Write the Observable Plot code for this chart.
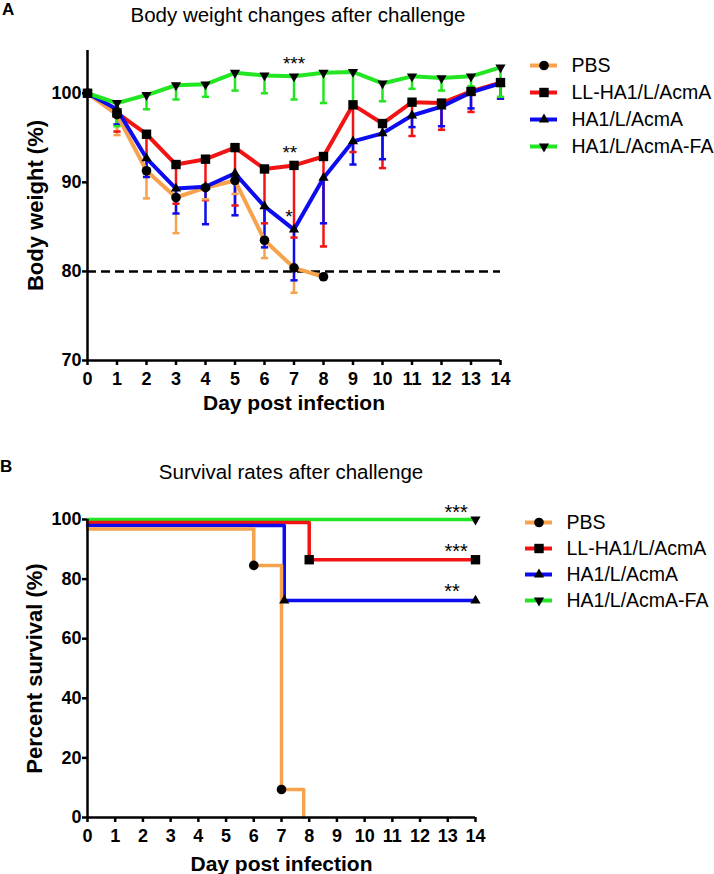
<!DOCTYPE html>
<html><head><meta charset="utf-8">
<script src="https://cdn.jsdelivr.net/npm/d3@7"></script>
<script src="https://cdn.jsdelivr.net/npm/@observablehq/plot@0.6"></script>
<style>
body{margin:0;background:#fff;}
#fig{position:relative;width:714px;height:874px;overflow:hidden;font-family:"Liberation Sans",Arial,Helvetica,sans-serif;color:#000;}
.letter{position:absolute;font-weight:bold;font-size:17px;line-height:17px;}
.title{position:absolute;font-size:20.5px;line-height:20.5px;transform:translateX(-50%);white-space:nowrap;}
</style></head><body><div id="fig"></div>
<script>
// ---------- data ----------
const days = [0,1,2,3,4,5,6,7,8,9,10,11,12,13,14];
const seriesNames = ["PBS","LL-HA1/L/AcmA","HA1/L/AcmA","HA1/L/AcmA-FA"];
const seriesColors = ["#F7A24C","#F21414","#0C0CEE","#22E622"];
const seriesSymbols = ["circle","square","triangle","triangle"];
const seriesRotate = [0,0,0,180];
const symbolR = [4.8,5.3,3.8,3.8];

// Body weight (%) means and lower error-bar ends, by day
const weightPBS  = [100,97.6,91.3,88.3,89.4,90.2,83.5,80.4,79.4];
const lowerPBS   = [null,95.3,88.2,84.3,88.1,88.7,81.5,77.6,null];
const weightLL   = [100,97.8,95.4,92.0,92.6,93.9,91.5,91.9,92.9,98.7,96.6,99.0,98.9,100.2,101.2];
const lowerLL    = [null,95.7,91.5,87.6,88.0,87.4,85.4,83.8,82.8,93.4,91.6,95.2,95.9,97.9,99.4];
const weightHA1  = [100,98.2,92.7,89.3,89.5,91.0,87.3,84.7,90.5,94.6,95.5,97.5,98.5,100.1,101.1];
const lowerHA1   = [null,96.5,90.6,86.5,85.3,86.3,82.7,79.0,85.4,92.0,92.6,96.2,96.3,98.3,99.4];
const weightFA   = [100,98.9,99.8,100.9,101.0,102.3,102.0,101.9,102.3,102.4,101.1,101.9,101.7,101.9,102.9];
const lowerFA    = [null,96.3,98.2,99.3,99.6,100.3,100.0,99.3,98.9,99.0,99.1,100.5,100.3,100.8,99.6];
const weightThreshold = [80];
const weightTicksY = [70,80,90,100];
const weightStarLabels = ["***","**","*"];
const weightStarDays = [7.0,6.86,6.83];
const weightStarValues = [103.8,93.8,86.6];

// Survival (%) step curves
const survDaysPBS = [0,6,7,7.8];   const survPBS = [96.8,84.6,9.4,0];
const survDaysLL  = [0,8,14];      const survLL  = [99.0,86.5,86.5];
const survDaysHA1 = [0,7.1,14];    const survHA1 = [98.0,72.8,72.8];
const survDaysFA  = [0,14];        const survFA  = [100,100];
const survivalTicksY = [0,20,40,60,80,100];
const survStarLabels = ["***","***","**"];
const survStarDays = [13.3,13.3,13.15];
const survStarValues = [103.7,90.6,77.2];

// ---------- build tables ----------
const FONT = '"Liberation Sans", Arial, Helvetica, sans-serif';
const weightMeans = [weightPBS, weightLL, weightHA1, weightFA];
const weightLowers = [lowerPBS, lowerLL, lowerHA1, lowerFA];
const weightRows = seriesNames.map((name, s) =>
  weightMeans[s].map((m, i) => ({series: name, s, day: days[i], mean: m, lower: weightLowers[s][i]}))
);
const survDays = [survDaysPBS, survDaysLL, survDaysHA1, survDaysFA];
const survVals = [survPBS, survLL, survHA1, survFA];
const survRows = seriesNames.map((name, s) =>
  survDays[s].map((d, i) => ({series: name, s, i, day: d, surv: survVals[s][i]}))
);

const capSymbol = {draw(ctx, size){ const r = Math.sqrt(size/Math.PI); ctx.moveTo(-r,0); ctx.lineTo(r,0); }};

const axisText = {fontSize: 18, fontWeight: "bold"};
const fig = document.getElementById("fig");
function place(el, left, top){ el.style.position="absolute"; el.style.left=left+"px"; el.style.top=top+"px"; fig.appendChild(el); }
function addDiv(cls, text, left, top){ const d=document.createElement("div"); d.className=cls; d.textContent=text; d.style.left=left+"px"; d.style.top=top+"px"; fig.appendChild(d); }

// ---------- Panel A ----------
const drawOrderA = [1,0,2,3];
const plotA = Plot.plot({
  width: 520, height: 440,
  marginLeft: 87, marginRight: 20, marginTop: 50, marginBottom: 80,
  x: {domain: [0,14]},
  y: {domain: [70,104.8]},
  style: {background: "transparent", overflow: "visible", fontFamily: FONT, color: "black"},
  marks: [
    Plot.ruleY(weightThreshold, {stroke: "black", strokeWidth: 2.5, strokeDasharray: "9,5"}),
    ...drawOrderA.map(s => Plot.ruleX(weightRows[s].filter(d => d.lower != null), {x: "day", y1: "mean", y2: "lower", stroke: seriesColors[s], strokeWidth: 2.5})),
    ...drawOrderA.map(s => Plot.dot(weightRows[s].filter(d => d.lower != null), {x: "day", y: "lower", symbol: capSymbol, r: 3.6, stroke: seriesColors[s], strokeWidth: 2.5, fill: "none"})),
    ...drawOrderA.map(s => Plot.line(weightRows[s], {x: "day", y: "mean", stroke: seriesColors[s], strokeWidth: 4})),
    ...drawOrderA.map(s => Plot.dot(weightRows[s], {x: "day", y: "mean", symbol: seriesSymbols[s], rotate: seriesRotate[s], r: symbolR[s], fill: "black"})),
    Plot.text(weightStarLabels, {x: weightStarDays, y: weightStarValues, text: d => d, fontSize: 19, dy: 4.5, lineAnchor: "middle", fill: "black"}),
    Plot.ruleX([0], {stroke: "black", strokeWidth: 2.5}),
    Plot.ruleY([70], {stroke: "black", strokeWidth: 2.5}),
    Plot.axisX({ticks: days, tickSize: 5, tickPadding: 7, strokeWidth: 2.5, label: null, ...axisText}),
    Plot.axisY({ticks: weightTicksY, tickSize: 5, tickPadding: 1, strokeWidth: 2.5, label: null, ...axisText}),
    Plot.text(["Day post infection"], {frameAnchor: "bottom", dy: 49, lineAnchor: "bottom", textAnchor: "middle", fontSize: 21, fontWeight: "bold", text: d => d}),
    Plot.text(["Body weight (%)"], {frameAnchor: "left", dx: -45, rotate: -90, lineAnchor: "bottom", textAnchor: "middle", fontSize: 22, fontWeight: "bold", text: d => d})
  ]
});
place(plotA, 0, 0);

// ---------- Panel B ----------
const drawOrderB = [3,1,2,0];
const plotB = Plot.plot({
  width: 500, height: 434,
  marginLeft: 87, marginRight: 25, marginTop: 79, marginBottom: 57,
  x: {domain: [0,14]},
  y: {domain: [0,100]},
  style: {background: "transparent", overflow: "visible", fontFamily: FONT, color: "black"},
  marks: [
    ...drawOrderB.map(s => Plot.line(survRows[s], {x: "day", y: "surv", curve: "step-after", stroke: seriesColors[s], strokeWidth: 3.5})),
    ...drawOrderB.map(s => Plot.dot(survRows[s].filter(d => d.i > 0 && d.surv > 0), {x: "day", y: "surv", symbol: seriesSymbols[s], rotate: seriesRotate[s], r: symbolR[s], fill: "black"})),
    Plot.text(survStarLabels, {x: survStarDays, y: survStarValues, text: d => d, fontSize: 20, dy: 4.5, lineAnchor: "middle", fill: "black"}),
    Plot.ruleX([0], {stroke: "black", strokeWidth: 2.5}),
    Plot.ruleY([0], {stroke: "black", strokeWidth: 2.5}),
    Plot.axisX({ticks: days, tickSize: 5, tickPadding: 7, strokeWidth: 2.5, label: null, ...axisText}),
    Plot.axisY({ticks: survivalTicksY, tickSize: 5, tickPadding: 1, strokeWidth: 2.5, label: null, ...axisText}),
    Plot.text(["Day post infection"], {frameAnchor: "bottom", dy: 53, lineAnchor: "bottom", textAnchor: "middle", fontSize: 21, fontWeight: "bold", text: d => d}),
    Plot.text(["Percent survival (%)"], {frameAnchor: "left", dx: -46, rotate: -90, lineAnchor: "bottom", textAnchor: "middle", fontSize: 22, fontWeight: "bold", text: d => d})
  ]
});
place(plotB, 0, 440);

// ---------- Legends ----------
function legend(rowYs, height){
  return Plot.plot({
    width: 200, height, margin: 0,
    x: {domain: [0,1], range: [10,37], axis: null},
    y: {type: "point", domain: seriesNames, range: rowYs, padding: 0, axis: null},
    style: {background: "transparent", overflow: "visible", fontFamily: FONT, color: "black"},
    marks: [
      Plot.ruleY(seriesNames, {y: d => d, x1: 0, x2: 1, stroke: (d, i) => seriesColors[i], strokeWidth: 4}),
      ...seriesNames.map((n, i) => Plot.dot([n], {x: 0.5, y: d => d, symbol: seriesSymbols[i], rotate: seriesRotate[i], r: symbolR[i], fill: "black"})),
      Plot.text(seriesNames, {x: 1, y: d => d, dx: 14, text: d => d, textAnchor: "start", lineAnchor: "middle", fontSize: 19.5, fill: "black"})
    ]
  });
}
place(legend([25,106], 130), 520, 40);
place(legend([22,100], 125), 515, 500);

// ---------- Titles ----------
addDiv("letter", "A", 2, 1);
addDiv("title", "Body weight changes after challenge", 298, 4.5);
addDiv("letter", "B", 0, 458);
addDiv("title", "Survival rates after challenge", 291, 461.5);
</script></body></html>
